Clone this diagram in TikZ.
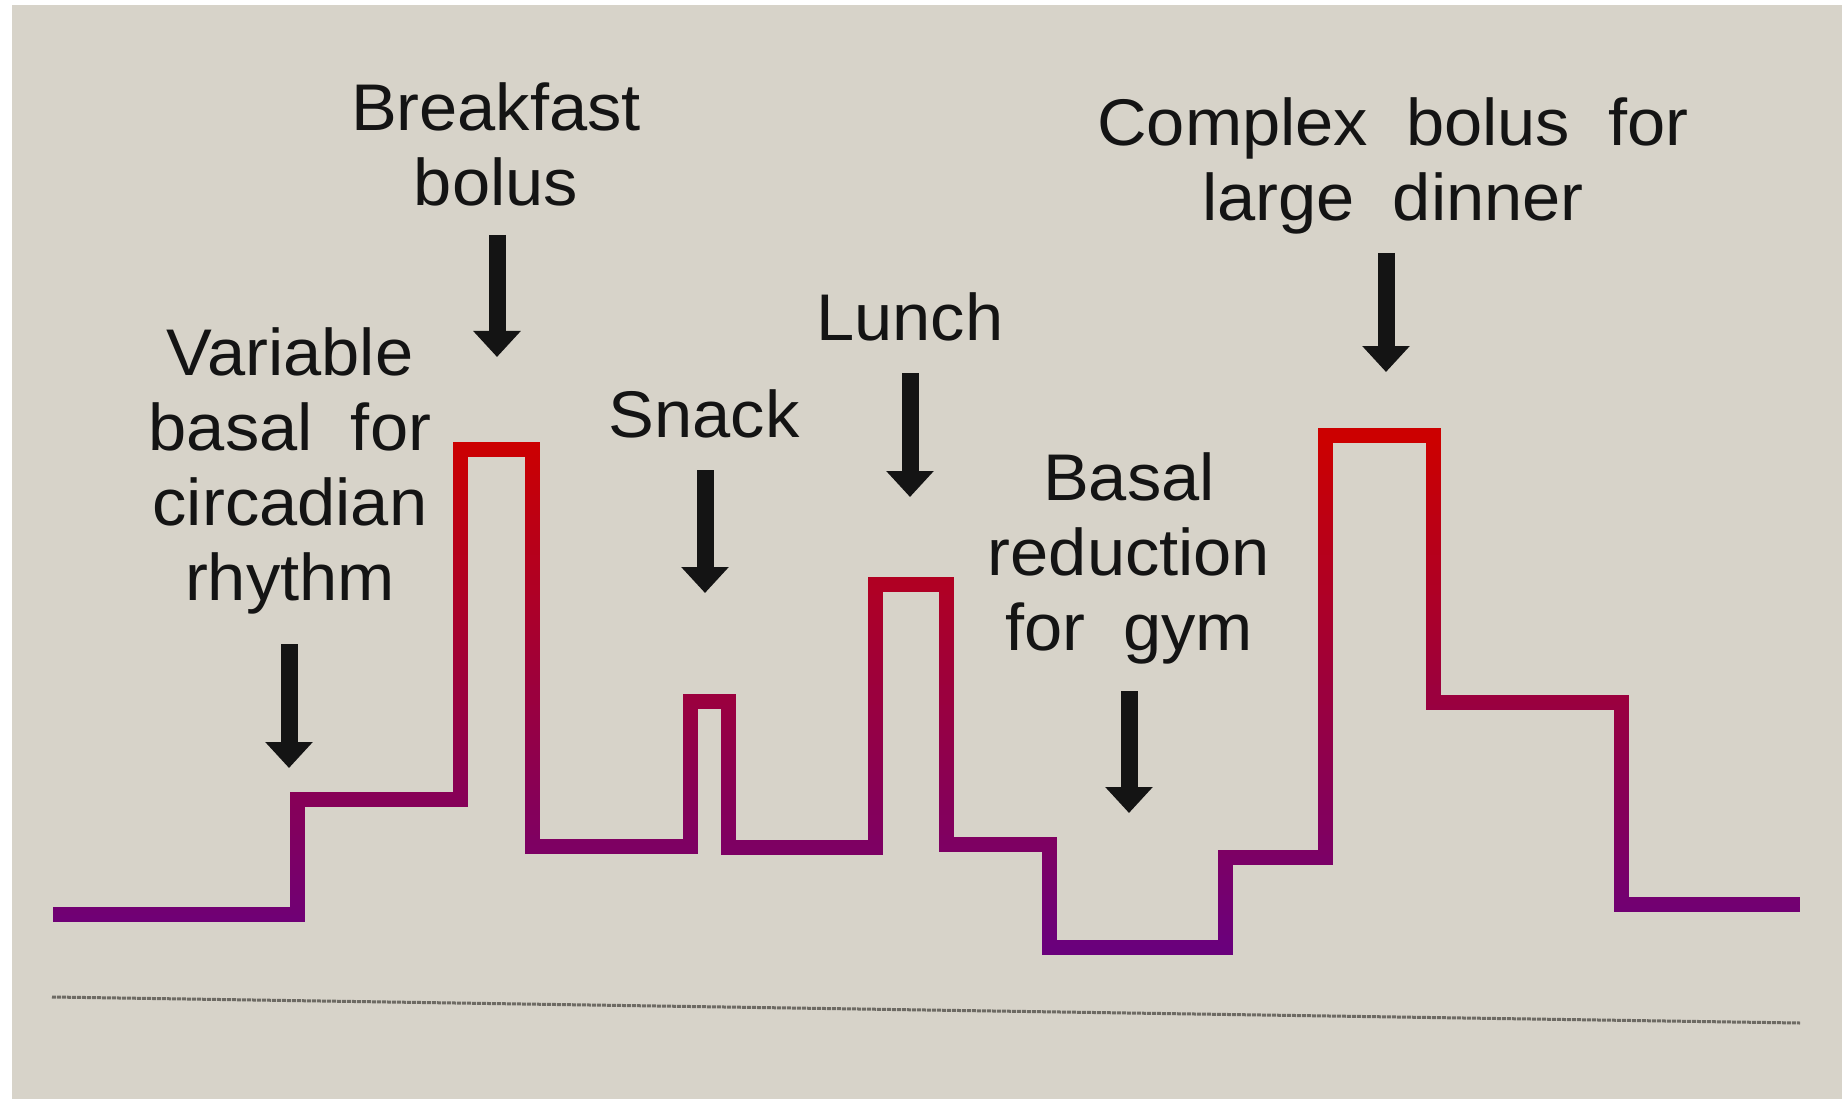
\documentclass[tikz,border=0pt]{standalone}
\usepackage{fontspec}
\setmainfont[WordSpace=2.0, FakeStretch=1.04]{Liberation Sans}
\usetikzlibrary{arrows.meta}

\definecolor{paper}{RGB}{215,211,201}
\definecolor{ink}{RGB}{20,20,20}
\definecolor{topred}{RGB}{204,0,0}
\definecolor{botpurple}{RGB}{106,0,124}
\definecolor{axisgrey}{RGB}{110,107,100}

\tikzset{
  label text/.style={font=\fontsize{66}{75}\selectfont, text=ink, align=center,
                     inner sep=0pt, anchor=base},
  pointer/.style={draw=ink, line width=17pt, -{Triangle[width=46pt,length=26pt]}},
  profile line/.style={line width=15pt, line join=miter, line cap=butt},
}

% insulin delivery profile over the day
\def\profile{(53,914) -- (297,914) -- (297,799) -- (460,799) -- (460,449)
  -- (532,449) -- (532,846) -- (690,846) -- (690,701) -- (728,701) -- (728,847)
  -- (875,847) -- (875,584) -- (946,584) -- (946,844) -- (1049,844) -- (1049,947)
  -- (1225,947) -- (1225,857) -- (1325,857) -- (1325,435) -- (1433,435)
  -- (1433,702) -- (1621,702) -- (1621,904) -- (1800,904)}

\begin{document}
\begin{tikzpicture}[x=1pt, y=-1pt]
  \useasboundingbox (0,0) rectangle (1842,1099);
  \fill[white] (0,0) rectangle (1842,1099);
  \fill[paper] (12,5) rectangle (1842,1099);
  \clip (0,0) rectangle (1842,1099);

  % time axis
  \draw[axisgrey, line width=3pt, dash pattern=on 4pt off 1pt] (52,997) -- (1800,1023);

  % profile drawn in horizontal bands, red at the peaks fading to purple at the base
  \foreach \i in {0,...,109} {
    \pgfmathsetmacro\ya{420+5*\i}
    \pgfmathsetmacro\yb{\ya+5.6}
    \pgfmathsetmacro\tt{max(0,min(1,(\ya+2.5-440)/510))}
    \pgfmathtruncatemacro\pc{round(100*(1-\tt))}
    \colorlet{bandcol}{topred!\pc!botpurple}
    \begin{scope}
      \clip (0,\ya) rectangle (1842,\yb);
      \draw[profile line, bandcol] \profile;
    \end{scope}
  }

  % labels (anchored on the baseline of their last line)
  \node[label text] (circ) at (290,600) {Variable\\basal for\\circadian\\rhythm};
  \node[label text] (bfast) at (496,206) {Breakfast\\bolus};
  \node[label text] (snack) at (704,437) {Snack};
  \node[label text] (lunch) at (910,341) {Lunch};
  \node[label text] (gym) at (1129,650) {Basal\\reduction\\for gym};
  \node[label text] (dinner) at (1393,221) {Complex bolus for\\large dinner};

  % arrow end points
  \coordinate (circS) at (289,644);  \coordinate (circE) at (289,768);
  \coordinate (bfastS) at (497,235); \coordinate (bfastE) at (497,357);
  \coordinate (snackS) at (705,470); \coordinate (snackE) at (705,593);
  \coordinate (lunchS) at (910,373); \coordinate (lunchE) at (910,497);
  \coordinate (gymS) at (1129,691);  \coordinate (gymE) at (1129,813);
  \coordinate (dinS) at (1386,253);  \coordinate (dinE) at (1386,372);

  \draw[pointer] (circS) -- (circE);
  \draw[pointer] (bfastS) -- (bfastE);
  \draw[pointer] (snackS) -- (snackE);
  \draw[pointer] (lunchS) -- (lunchE);
  \draw[pointer] (gymS) -- (gymE);
  \draw[pointer] (dinS) -- (dinE);
\end{tikzpicture}
\end{document}
